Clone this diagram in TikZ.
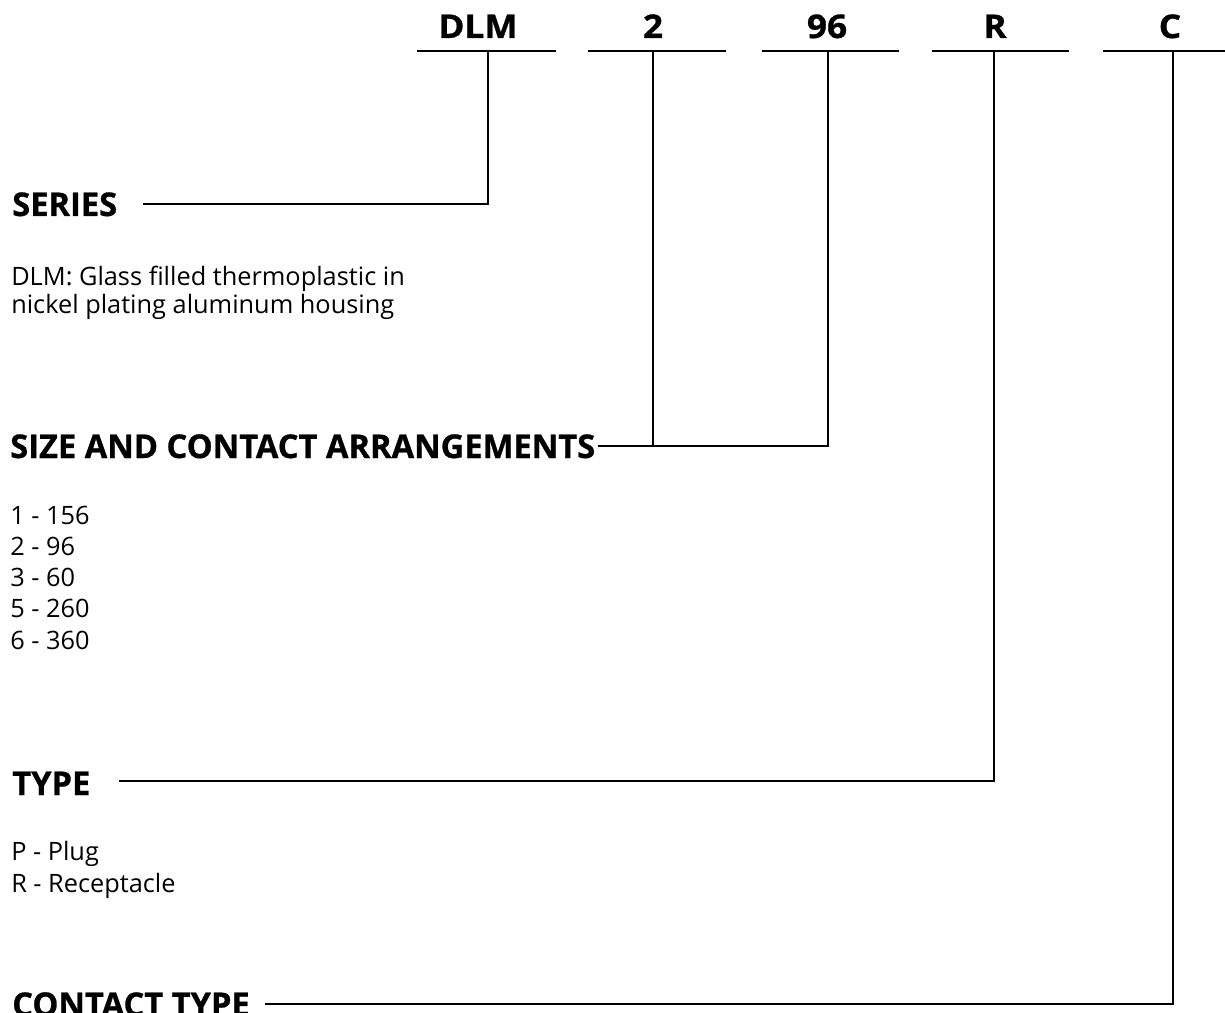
\documentclass[tikz,border=0pt]{standalone}
\usepackage{fontspec}
\setmainfont{Open Sans}
\newfontfamily\headfont{Open Sans}[BoldFeatures={FakeBold=0.8}]
\begin{document}
\begin{tikzpicture}[x=0.75pt,y=-0.75pt,
  codelbl/.style={font=\fontsize{24.5}{26}\headfont\bfseries, xscale=1.08, anchor=base, inner sep=0pt},
  head/.style={font=\fontsize{24.5}{26}\headfont\bfseries, anchor=base west, inner sep=0pt},
  body/.style={font=\fontsize{19}{23.4}\selectfont, anchor=base west, inner sep=0pt, align=left},
  ln/.style={line width=2pt},
  link/.style={line width=1.3pt}]
\useasboundingbox (0,0) rectangle (1225,1013);
\clip (0,0) rectangle (1225,1013);
% top code labels
\node[codelbl] (cDLM) at (478,38) {DLM};
\node[codelbl] (c2) at (653,38) {2};
\node[codelbl] (c96) at (827,38) {96};
\node[codelbl] (cR) at (995,38) {R};
\node[codelbl] (cC) at (1170,38) {C};
\draw[ln] (417,51) -- (556,51);
\draw[ln] (588,51) -- (726,51);
\draw[ln] (762,51) -- (899,51);
\draw[ln] (932,51) -- (1069,51);
\draw[ln] (1103,51) -- (1225,51);
\coordinate (tDLM) at (488,51);
\coordinate (t2) at (653,51);
\coordinate (t96) at (828,51);
\coordinate (tR) at (994,51);
\coordinate (tC) at (1173,51);
% headings
\node[head] (hs) at (12,216) {SERIES};
\node[head] (hsz) at (10,458) {SIZE AND CONTACT ARRANGEMENTS};
\node[head] (ht) at (12,795) {TYPE};
\node[head] (hc) at (12,1016) {CONTACT TYPE};
% body
\node[body,font=\fontsize{19}{21}\selectfont] (bs) at (11,313) {DLM: Glass filled thermoplastic in\\nickel plating aluminum housing};
\node[body] (bsz) at (10,649) {1 - 156\\2 - 96\\3 - 60\\5 - 260\\6 - 360};
\node[body,font=\fontsize{19}{24}\selectfont] (bt) at (11,892) {P - Plug\\R - Receptacle};
% connectors
\coordinate (js) at (143,204);
\draw[link] (js) -- (tDLM |- js) -- (tDLM);
\coordinate (jsz) at (hsz.east |- 0,446);
\draw[link] ([xshift=2pt]jsz) -- (t96 |- jsz) -- (t96);
\draw[link] (t2) -- (t2 |- jsz);
\coordinate (jt) at (119,781);
\draw[link] (jt) -- (tR |- jt) -- (tR);
\coordinate (jc) at (265,1004);
\draw[link] (jc) -- (tC |- jc) -- (tC);
\end{tikzpicture}
\end{document}
